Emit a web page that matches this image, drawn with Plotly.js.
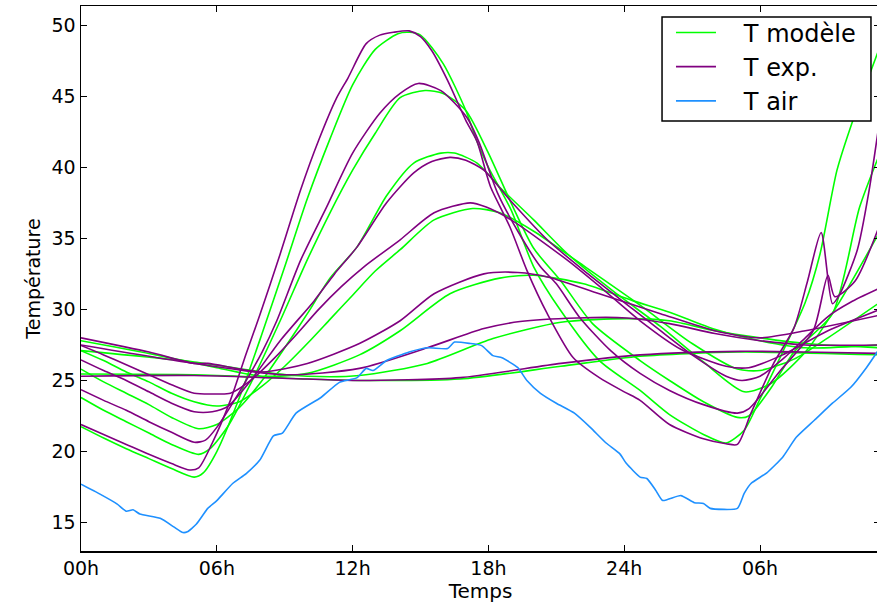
<!DOCTYPE html>
<html><head><meta charset="utf-8">
<script src="https://cdn.plot.ly/plotly-3.0.1.min.js"></script>
<style>html,body{margin:0;padding:0;overflow:hidden;background:#fff}</style>
</head><body><div id="chart"></div>
<script>
// hours since 00h of day 1
var airH = [0,0.84,1.6,2.0,2.3,2.6,3.5,4.1,4.5,4.7,5.1,5.6,6.0,6.7,7.3,7.9,8.5,8.9,9.5,10.6,11.4,12.2,12.6,12.9,13.5,14.5,15.3,16.2,16.5,17.2,17.7,18.2,18.6,19.3,19.7,20.3,21.0,21.8,22.5,23.2,23.8,24.1,24.7,25.0,25.4,25.7,26.5,27.1,27.5,27.8,29.0,29.3,29.6,30.3,31.0,31.6,32.4,33.2,34.0,34.7,35.3];
var airT = [17.7,17.0,16.3,15.8,15.9,15.6,15.3,14.7,14.3,14.35,14.9,16.0,16.55,17.75,18.45,19.4,21.1,21.3,22.7,23.8,24.85,25.2,25.85,25.7,26.4,27.0,27.3,27.25,27.7,27.6,27.45,26.75,26.6,25.9,25.0,24.1,23.4,22.7,21.7,20.6,19.85,19.15,18.2,18.1,17.25,16.55,16.9,16.4,16.35,16.0,16.0,17.05,17.75,18.5,19.6,21.0,22.2,23.4,24.5,25.9,27.3];

var exp1H = [0,1,2,3,4,4.8,5.2,5.8,6.6,7.3,7.9,8.8,9.7,10.5,11.3,11.8,12.6,13.2,13.8,14.5,15.0,15.5,16.2,17.0,17.5,17.9,18.1,18.95,19.7,20.6,21.75,22.9,24.0,24.7,26.0,27.5,28.5,29.0,29.6,30.6,31.5,32.1,32.7,33.2,33.5,34.3,34.8,35.3];
var exp1T = [21.9,21.2,20.5,19.8,19.15,18.7,18.85,20.6,23.6,26.9,29.6,33.9,38.4,41.9,44.9,46.3,48.7,49.3,49.5,49.6,49.2,48.2,46.1,43.3,41.8,39.6,38.6,35.8,32.75,29.7,26.6,25.2,24.2,23.6,21.9,20.9,20.55,20.5,22.7,26.2,28.7,32.0,35.4,30.4,31.0,34.2,38.2,43.5];
var mod1H = [0,1,2,3,4,5.0,5.4,6,7,8,9,10,11,12,13,14,14.5,15,16,17,17.5,18,19,20,21.2,22.9,24.7,26,27.5,28.5,29.3,30,31,32,32.65,33.4,34.1,35.3];
var mod1T = [21.75,20.95,20.2,19.5,18.8,18.2,18.5,20.0,23.8,28.3,33.0,37.8,42.0,45.8,48.3,49.4,49.5,49.3,47.3,44.0,41.8,40.0,37.0,33.0,29.9,26.4,24.3,22.6,21.2,20.6,21.5,23.7,27.0,30.5,33.9,39.8,43.3,48.5];

var exp2H = [0,1,2,3,4,5,5.5,6,7,8,8.65,9.7,10.85,12.0,13.2,14.1,14.9,15.9,17.05,17.6,18.4,19.3,20.3,21.0,22.05,23.4,24.7,26,27.5,29,29.5,30.9,32.35,33.0,33.3,34.2,35.3];
var exp2T = [24.35,23.6,22.9,22.1,21.35,20.65,20.8,21.7,24.2,27.0,29.2,33.45,37.2,41.0,43.8,45.2,45.9,45.4,43.5,41.7,38.2,35.5,33.0,31.8,29.4,27.1,25.5,24.3,23.3,22.7,23.0,25.7,28.5,32.4,30.9,32.0,36.0];
var mod2H = [0,1,2,3,4,5.2,5.7,6.5,7.5,8.8,10,11,12,13,14.1,15.2,16,17,18,19,20,21.2,22.6,24.7,26,27.5,29,29.5,30.5,31.5,33.2,34.4,35.3];
var mod2T = [23.8,22.9,22.1,21.3,20.5,19.8,20.2,21.8,24.8,29.2,33.5,36.8,39.8,42.4,44.9,45.4,45.2,44.0,41.0,37.5,34.3,32.0,29.0,26.4,25.0,23.5,22.4,22.5,24.5,27.0,29.7,37.2,41.0];

var exp3H = [0,1,2,3,4,5,5.8,6.5,7.6,8.8,10.3,11.2,12.2,13.5,14.7,15.5,16.3,17.0,17.8,18.95,20.6,22.4,24.4,25.6,27,28.5,29.2,30,31,32,33,34,35.3];
var exp3T = [26.45,25.7,25.0,24.2,23.4,22.8,22.8,23.2,25.2,27.8,30.6,32.5,34.4,37.5,39.6,40.4,40.7,40.5,39.8,37.7,34.9,32.5,30.0,28.5,26.8,25.3,25.0,25.3,26.5,28.0,29.5,30.5,31.5];
var mod3H = [0,1,2,3,4,5.2,6,7,8,9,10,11,12.2,13.5,14.7,15.9,16.5,17.5,18.5,20,21.5,23.5,25.6,27.5,29.3,30.5,32,33.5,35.3];
var mod3T = [25.8,24.9,24.1,23.3,22.4,21.6,21.9,23.1,25.0,27.3,29.7,32.2,34.4,38.0,40.3,41.0,41.0,40.3,38.6,36.3,33.9,31.3,28.8,26.3,24.2,24.8,27.0,30.5,35.5];

var exp4H = [0,1,2,3,4,5,6,6.6,7.5,8.5,9.5,10.5,11.5,12.5,14.1,15.6,17.2,17.9,19.0,21.5,23,24.7,26.5,28.5,29.5,31,33,35.3];
var exp4T = [27.46,26.8,26.1,25.4,24.7,24.1,24.05,24.1,25.0,26.5,28.2,30.0,31.6,33.0,34.9,36.8,37.5,37.2,36.3,33.45,31.5,29.2,27.2,26.0,25.9,26.8,28.5,30.0];
var mod4H = [0,1,2,3,4,5,6,7,8,9,10,11,12,13,14.1,15.6,17.3,18.5,20,22,24.7,27,29,30,31.5,33,35.3];
var mod4T = [27.1,26.4,25.6,24.9,24.1,23.5,23.2,23.5,24.6,26.0,27.6,29.3,31.0,32.7,34.2,36.3,37.1,36.8,35.5,33.3,30.3,27.6,25.8,25.7,26.5,28.0,30.5];

var exp5H = [0,3,5,5.6,8,10,12.3,14.1,15.6,17.8,19.3,20.7,22.9,25.6,28,30,32,35.3];
var exp5T = [28.0,27.0,26.2,26.2,25.6,26.2,27.6,29.2,31.1,32.5,32.6,32.25,31.1,29.7,28.5,28.0,28.5,29.6];
var mod5H = [0,3,6,8,10,12.3,14.1,16.3,18.5,20,22.2,24.4,26,28,30,32,35.3];
var mod5T = [27.8,26.9,25.9,25.3,25.5,26.8,28.5,31.1,32.2,32.4,31.8,30.6,29.8,28.6,27.8,27.3,27.5];

var exp6H = [0,5,9,12.3,15.3,17.8,19.4,21.9,24.1,26,28,30,32,35.3];
var exp6T = [27.5,26.2,25.4,25.85,27.3,28.65,29.15,29.4,29.4,29.0,28.3,27.8,27.5,27.5];
var mod6H = [0,5,8,10,12.3,15.3,18.2,21.2,24.1,26,28,30,32,35.3];
var mod6T = [27.1,26.3,25.6,25.3,25.35,26.2,27.95,29.1,29.35,29.2,28.5,28.0,27.6,27.3];

var exp7H = [0,5,10,12.3,16.75,21.2,24.7,29.1,32,35.3];
var exp7T = [25.3,25.35,25.1,25.0,25.2,26.2,26.8,27.05,27.0,26.9];
var mod7H = [0,5,10,12.3,16.75,21.2,24.7,29,35.3];
var mod7T = [25.45,25.4,25.1,25.0,25.1,26.0,26.7,27.0,26.8];

var tickVals = [0,6,12,18,24,30];
var tickText = ['00h','06h','12h','18h','24h','06h'];
var legendNames = ['T modèle','T exp.','T air'];

var GREEN = '#00ff00', PURPLE = '#800080', BLUE = '#1e90ff';
var pad = '\u00a0\u00a0\u00a0';
var model = [[mod1H,mod1T],[mod2H,mod2T],[mod3H,mod3T],[mod4H,mod4T],[mod5H,mod5T],[mod6H,mod6T],[mod7H,mod7T]];
var exper = [[exp1H,exp1T],[exp2H,exp2T],[exp3H,exp3T],[exp4H,exp4T],[exp5H,exp5T],[exp6H,exp6T],[exp7H,exp7T]];
var traces = [];
model.forEach(function(s,i){
  traces.push({x:s[0],y:s[1],mode:'lines',name:pad+legendNames[0],legendgroup:'m',showlegend:i===0,
    line:{color:GREEN,width:1.6,shape:'spline',smoothing:0.7}});
});
exper.forEach(function(s,i){
  traces.push({x:s[0],y:s[1],mode:'lines',name:pad+legendNames[1],legendgroup:'e',showlegend:i===0,
    line:{color:PURPLE,width:1.6,shape:'spline',smoothing:0.7}});
});
traces.push({x:airH,y:airT,mode:'lines',name:pad+legendNames[2],line:{color:BLUE,width:1.6,shape:'spline',smoothing:0.5}});

var font = 'DejaVu Sans, sans-serif';
var layout = {
  width: 885, height: 603,
  margin:{l:81,r:5,t:6,b:52},
  paper_bgcolor:'#fff', plot_bgcolor:'#fff',
  showlegend:true,
  font:{family:font,size:19,color:'#000'},
  xaxis:{range:[0,35.3],tickvals:tickVals,ticktext:tickText,ticks:'inside',ticklen:6,tickwidth:1,tickcolor:'#000',
    showline:true,linecolor:'#000',linewidth:1.5,mirror:'ticks',showgrid:false,zeroline:false,
    title:{text:'Temps',font:{size:20},standoff:2},tickfont:{size:19}},
  yaxis:{range:[13,51.35],tickvals:[15,20,25,30,35,40,45,50],ticks:'inside',ticklen:6,tickwidth:1,tickcolor:'#000',
    showline:true,linecolor:'#000',linewidth:1.5,mirror:'ticks',showgrid:false,zeroline:false,
    title:{text:'Température',font:{size:19},standoff:6},tickfont:{size:19}},
  shapes:[{type:'rect',xref:'paper',yref:'paper',x0:0.7272,x1:0.9887,y0:0.789,y1:0.9798,
    fillcolor:'#fff',line:{color:'#000',width:1.5},layer:'above'}],
  legend:{x:0.7384,y:0.992,xanchor:'left',yanchor:'top',bgcolor:'rgba(0,0,0,0)',borderwidth:0,
    font:{size:24},itemwidth:40,traceorder:'normal'}
};
Plotly.newPlot('chart',traces,layout,{displayModeBar:false,staticPlot:true});
</script></body></html>
